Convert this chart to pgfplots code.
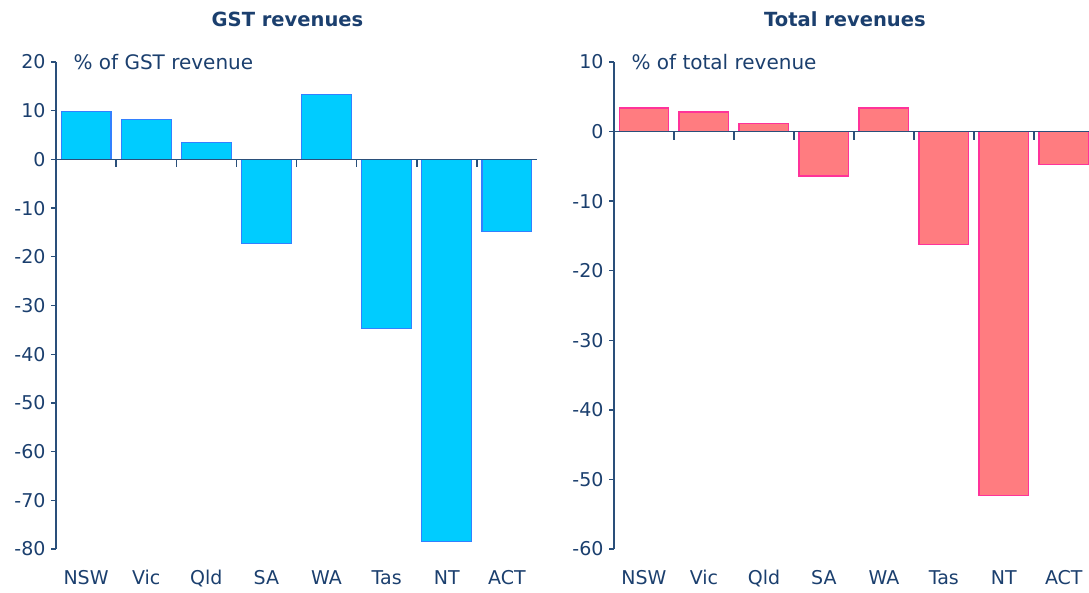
\documentclass[border=0pt]{standalone}
\usepackage{fontspec}
\setmainfont{DejaVu Sans}
\usepackage{pgfplots}
\pgfplotsset{compat=1.18}
\definecolor{navy}{HTML}{1B3F6E}
\definecolor{axcol}{HTML}{2A4F7A}
\definecolor{cyanfill}{HTML}{00CCFF}
\definecolor{cyanedge}{HTML}{3380FF}
\definecolor{pinkfill}{HTML}{FF7C80}
\definecolor{pinkedge}{HTML}{FF3399}
\pgfplotsset{
  mystyle/.style={
    scale only axis,
    height=487pt,
    ybar,
    bar width=0.83,
    xmin=-0.5,
    axis y line*=left,
    axis x line*=bottom,
    x axis line style={draw=none},
    y axis line style={draw=axcol, line width=1.5pt},
    xtick={0,...,7},
    xticklabels={NSW,Vic,Qld,SA,WA,Tas,NT,ACT},
    xtick style={draw=none},
    ytick style={draw=axcol, line width=1.3pt},
    tick align=outside,
    major tick length=5pt,
    tick label style={font=\fontsize{19}{21}\selectfont, text=navy},
    /pgf/number format/assume math mode=true,
    xticklabel style={yshift=-13pt},
    yticklabel style={xshift=-2pt},
    clip=false,
  }
}
\begin{document}
\begin{tikzpicture}
\path[use as bounding box] (0,0) rectangle (1089pt,592pt);
% Left panel
\begin{axis}[mystyle,
  at={(56pt,43pt)}, anchor=south west,
  width=481pt, xmax=7.5,
  ymin=-80, ymax=20, ytick={-80,-70,...,20},
]
\addplot[fill=cyanfill, draw=cyanedge, line width=1.2pt] coordinates {
 (0,9.9) (1,8.2) (2,3.5) (3,-17.2) (4,13.3) (5,-34.7) (6,-78.4) (7,-14.8)};
\draw[axcol, line width=1.5pt] (axis cs:-0.5,0) -- (axis cs:7.5,0);
\pgfplotsinvokeforeach{0.5,1.5,2.5,3.5,4.5,5.5,6.5}{
  \draw[axcol, line width=1.5pt] (axis cs:#1,0) -- ([yshift=-8pt]axis cs:#1,0);
}
\node[anchor=west, text=navy, font=\fontsize{20}{22}\selectfont] at (axis cs:-0.5,20) [xshift=14pt] {\% of GST revenue};
\node[text=navy, font=\fontsize{19.5}{22}\bfseries] at (axis cs:3.35,20) [yshift=43pt] {GST revenues};
\end{axis}
% Right panel
\begin{axis}[mystyle,
  at={(614pt,43pt)}, anchor=south west,
  width=475pt, xmax=7.42,
  ymin=-60, ymax=10, ytick={-60,-50,...,10},
]
\addplot[fill=pinkfill, draw=pinkedge, line width=1.2pt] coordinates {
 (0,3.4) (1,2.8) (2,1.2) (3,-6.4) (4,3.4) (5,-16.2) (6,-52.3) (7,-4.7)};
\draw[axcol, line width=1.5pt] (axis cs:-0.5,0) -- (axis cs:7.42,0);
\pgfplotsinvokeforeach{0.5,1.5,2.5,3.5,4.5,5.5,6.5}{
  \draw[axcol, line width=1.5pt] (axis cs:#1,0) -- ([yshift=-8pt]axis cs:#1,0);
}
\node[anchor=west, text=navy, font=\fontsize{20}{22}\selectfont] at (axis cs:-0.5,10) [xshift=14pt] {\% of total revenue};
\node[text=navy, font=\fontsize{19.5}{22}\bfseries] at (axis cs:3.35,10) [yshift=43pt] {Total revenues};
\end{axis}
\end{tikzpicture}
\end{document}
